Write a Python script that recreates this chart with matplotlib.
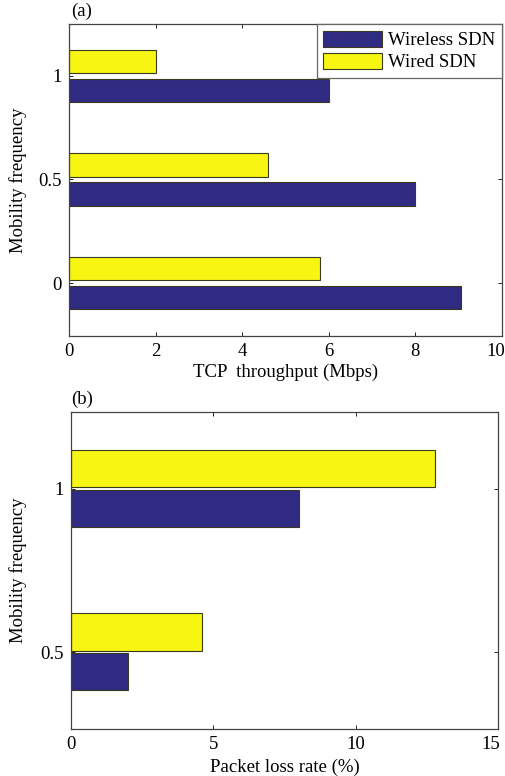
import numpy as np
import matplotlib.pyplot as plt
from matplotlib.transforms import ScaledTranslation

plt.rcParams['font.family'] = ['Liberation Serif', 'DejaVu Serif']
plt.rcParams['font.size'] = 13.5

# data
freq_a = [0, 0.5, 1]
wireless_tcp = [9.05, 8.0, 6.0]
wired_tcp = [5.8, 4.6, 2.0]

freq_b = [0.5, 1]
wireless_loss = [2.0, 8.0]
wired_loss = [4.6, 12.8]

blue = '#2f2a82'
yellow = '#f7f512'
edge = '#3a3a20'
h = 0.115
off = 0.07

fig = plt.figure(figsize=(5.05, 7.76), dpi=100)
ax1 = fig.add_axes([0.1366, 0.567, 0.857, 0.4021])
ax2 = fig.add_axes([0.1406, 0.0606, 0.8455, 0.4085])

def style(ax):
    ax.tick_params(direction='in', top=True, right=True, length=3, width=0.6, pad=5)
    for s in ax.spines.values():
        s.set_linewidth(0.9)
        s.set_color('#444444')

y = np.array(freq_a)
ax1.barh(y - off, wireless_tcp, height=h, color=blue, edgecolor=edge, linewidth=0.8, label='Wireless SDN')
ax1.barh(y + off, wired_tcp, height=h, color=yellow, edgecolor=edge, linewidth=0.8, label='Wired SDN')
ax1.set_xlim(0, 10)
ax1.set_ylim(-0.256, 1.251)
ax1.set_xticks([0, 2, 4, 6, 8, 10])
ax1.set_yticks([0, 0.5, 1])
ax1.set_yticklabels(['0', '0.5', '1'])
ax1.set_xlabel('TCP  throughput (Mbps)', labelpad=3)
ax1.set_ylabel('Mobility frequency')
ax1.yaxis.set_label_coords(-0.097, 0.5)
style(ax1)
leg = ax1.legend(loc='upper right', fancybox=False, edgecolor='#666666', framealpha=1,
                 handlelength=3.15, handleheight=0.95, handletextpad=0.3, borderaxespad=0,
                 borderpad=0.35, labelspacing=0.2)
leg.get_frame().set_linewidth(0.9)
ax1.text(0.005, 1.012, '(a)', transform=ax1.transAxes, va='bottom', ha='left')

y = np.array(freq_b)
ax2.barh(y - off + 0.01, wireless_loss, height=h, color=blue, edgecolor=edge, linewidth=0.8)
ax2.barh(y + off - 0.008, wired_loss, height=h, color=yellow, edgecolor=edge, linewidth=0.8)
ax2.set_xlim(0, 15)
ax2.set_ylim(0.264, 1.236)
ax2.set_xticks([0, 5, 10, 15])
ax2.set_yticks([0.5, 1])
ax2.set_yticklabels(['0.5', '1'])
ax2.set_xlabel('Packet loss rate (%)', labelpad=4)
ax2.set_ylabel('Mobility frequency')
ax2.yaxis.set_label_coords(-0.102, 0.5)
style(ax2)
ax2.text(0.0, 1.012, '(b)', transform=ax2.transAxes, va='bottom', ha='left')

# last tick labels sit slightly left so they stay inside the figure
for ax, dx in [(ax1, -0.06), (ax2, -0.07)]:
    lbl = ax.get_xticklabels()[-1]
    lbl.set_transform(lbl.get_transform() + ScaledTranslation(dx, 0, fig.dpi_scale_trans))

fig.savefig('out.png', dpi=100)
